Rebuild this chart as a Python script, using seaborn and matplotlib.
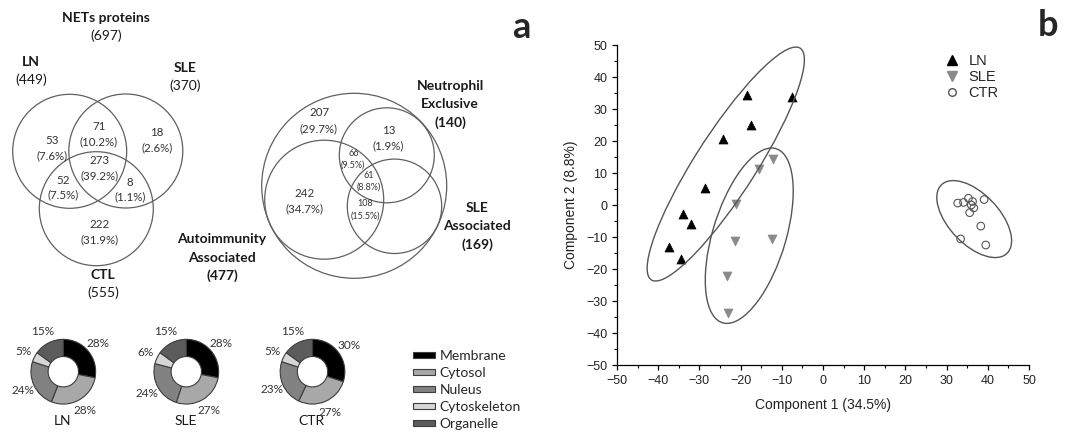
import numpy as np
import pandas as pd
import seaborn as sns
import matplotlib.pyplot as plt
from matplotlib.patches import Circle, Ellipse, Patch
from matplotlib.lines import Line2D
from matplotlib.ticker import MultipleLocator

# ---- data ----
# venn 1: NETs proteins per group
venn1_total = 697
venn1_sets = ["LN", "SLE", "CTL"]
venn1_set_sizes = [449, 370, 555]
# regions: LN only, LN&SLE, SLE only, all three, LN&CTL, SLE&CTL, CTL only
venn1_counts = [53, 71, 18, 273, 52, 8, 222]

# venn 2: autoimmunity / neutrophil / SLE associated
venn2_sets = ["Neutrophil\nExclusive", "SLE\nAssociated", "Autoimmunity\nAssociated"]
venn2_set_sizes = [140, 169, 477]
# regions: outside, neutro only, neutro&auto, all three, auto only, SLE&auto
venn2_counts = [207, 13, 66, 61, 242, 108]

# subcellular location (%)
locations = ["Membrane", "Cytosol", "Nuleus", "Cytoskeleton", "Organelle"]
donut_groups = ["LN", "SLE", "CTR"]
donut_ln = [28, 28, 24, 5, 15]
donut_sle = [28, 27, 24, 6, 15]
donut_ctr = [30, 27, 23, 5, 15]

# PCA scores
ln_pc1 = [-37.3, -34.5, -34.0, -32.1, -28.6, -24.2, -18.4, -17.4, -7.6]
ln_pc2 = [-13.2, -16.9, -2.9, -5.9, 5.3, 20.5, 34.4, 25.0, 33.8]
sle_pc1 = [-12.1, -15.5, -21.0, -21.3, -12.5, -23.4, -23.1]
sle_pc2 = [14.5, 11.1, 0.3, -11.3, -10.6, -22.2, -33.9]
ctr_pc1 = [32.7, 34.1, 35.3, 36.3, 36.0, 36.6, 35.6, 39.1, 38.3, 33.4, 39.5]
ctr_pc2 = [0.6, 0.8, 2.1, 1.1, 0.0, -0.9, -2.4, 1.7, -6.6, -10.6, -12.5]

# group ellipses (center x, center y, semi-major, semi-minor, angle deg)
ellipse_ln = [-23.6, 12.8, 40.5, 7.8, 64]
ellipse_sle = [-17.9, -9.6, 28.0, 9.0, 77.5]
ellipse_ctr = [36.7, -4.4, 13.5, 6.7, 121.5]

# ---- style ----
sns.set_style("ticks")
plt.rcParams["font.family"] = ["Liberation Sans", "DejaVu Sans"]
LEFT_FONT = ["Lato", "DejaVu Sans"]

W, H = 1068, 433
fig = plt.figure(figsize=(W / 100, H / 100), dpi=100)
fig.patch.set_facecolor("white")

# left panel drawn in pixel coordinates
axv = fig.add_axes([0, 0, 560 / W, 1])
axv.set_xlim(0, 560)
axv.set_ylim(H, 0)
axv.axis("off")

circ_kw = dict(fill=False, edgecolor="#606060", lw=0.9)
num_kw = dict(ha="center", va="center", color="#333333", family=LEFT_FONT)
bold_kw = dict(ha="center", va="center", color="#1a1a1a", family=LEFT_FONT,
               fontweight="bold", fontsize=10)
plain_kw = dict(ha="center", va="center", color="#1a1a1a", family=LEFT_FONT, fontsize=10)


def pct(n):
    return f"({n / venn1_total * 100:.1f}%)"


# venn 1
for cx, cy in [(69.7, 151.3), (125.8, 151.0), (96.3, 208.7)]:
    axv.add_patch(Circle((cx, cy), 57, **circ_kw))

axv.text(105.7, 18.5, "NETs proteins", **bold_kw)
axv.text(105.7, 36, f"({venn1_total})", **plain_kw)
v1_label_pos = [(31, 62), (185, 68), (103, 275)]
for name, size, (x, y) in zip(venn1_sets, venn1_set_sizes, v1_label_pos):
    axv.text(x, y, name, **bold_kw)
    axv.text(x, y + 18, f"({size})", **plain_kw)

v1_region_pos = [(51.7, 141), (99, 127), (156.7, 132.5), (99.3, 161),
                 (63.3, 180), (130, 182), (99.3, 225)]
for n, (x, y) in zip(venn1_counts, v1_region_pos):
    axv.text(x, y, str(n), fontsize=8.3, **num_kw)
    axv.text(x, y + 15, pct(n), fontsize=8.3, **num_kw)

# venn 2
for cx, cy, r in [(354.2, 185.8, 92.5), (324.2, 199.7, 59.5),
                  (386.8, 155.3, 47.5), (394.5, 206.3, 47.2)]:
    axv.add_patch(Circle((cx, cy), r, **circ_kw))

v2_label_pos = [(450, 86), (477, 208), (222, 239)]
for name, size, (x, y) in zip(venn2_sets, venn2_set_sizes, v2_label_pos):
    lines = name.split("\n")
    for i, line in enumerate(lines):
        axv.text(x, y + 18.5 * i, line, **bold_kw)
    axv.text(x, y + 18.5 * len(lines), f"({size})", **bold_kw)

v2_region_pos = [(319, 113, 8.3), (388.3, 130, 8.3), (353.3, 153.5, 6.5),
                 (368.3, 175, 6.5), (304.3, 193.5, 8.3), (365, 204, 6.5)]
for n, (x, y, fs) in zip(venn2_counts, v2_region_pos):
    gap = 15.5 if fs > 7 else 12
    axv.text(x, y, str(n), fontsize=fs, **num_kw)
    axv.text(x, y + gap, pct(n), fontsize=fs, **num_kw)

# donuts
loc_colors = ["#000000", "#a8a8a8", "#828282", "#d6d6d6", "#5c5c5c"]
donut_centers = [(63.3, 371.7), (186.3, 371.7), (312.5, 371.7)]
R = 33
for name, vals, (cx, cy) in zip(donut_groups, [donut_ln, donut_sle, donut_ctr], donut_centers):
    axd = fig.add_axes([(cx - R) / W, (H - cy - R) / H, 2 * R / W, 2 * R / H])
    axd.pie(vals, colors=loc_colors, startangle=90, counterclock=False,
            radius=1, autopct=lambda p: f"{p:.0f}%", pctdistance=1.38,
            wedgeprops=dict(width=0.53, edgecolor="#3c3c3c", linewidth=0.8),
            textprops=dict(fontsize=8.5, color="#333333", family=LEFT_FONT))
    axd.set_xlim(-1.02, 1.02)
    axd.set_ylim(-1.02, 1.02)
    axd.set_aspect("equal")
    axd.axis("off")
    axv.text(cx - 1, 421, name, **plain_kw)

loc_handles = [Patch(facecolor=c, edgecolor="#3c3c3c", linewidth=0.8) for c in loc_colors]
fig.legend(loc_handles, locations, loc="upper left",
           bbox_to_anchor=(413 / W, 1 - 350 / H), frameon=False,
           handlelength=1.6, handleheight=0.35, handletextpad=0.3,
           labelspacing=0.36, borderpad=0, borderaxespad=0,
           prop=dict(family=LEFT_FONT, size=10))

fig.text(521.5 / W, 1 - 28 / H, "a", ha="center", va="center", fontsize=26,
         fontweight="bold", family=LEFT_FONT)
fig.text(1048 / W, 1 - 25 / H, "b", ha="center", va="center", fontsize=26,
         fontweight="bold", family=LEFT_FONT)

# ---- PCA scatter ----
pca = pd.DataFrame({
    "pc1": ln_pc1 + sle_pc1 + ctr_pc1,
    "pc2": ln_pc2 + sle_pc2 + ctr_pc2,
    "group": ["LN"] * len(ln_pc1) + ["SLE"] * len(sle_pc1) + ["CTR"] * len(ctr_pc1),
})

ax = fig.add_axes([617 / W, (H - 365) / H, 412 / W, 320 / H])
sns.scatterplot(data=pca[pca.group == "LN"], x="pc1", y="pc2", marker="^",
                color="black", s=42, edgecolor="black", linewidth=0.5, ax=ax)
sns.scatterplot(data=pca[pca.group == "SLE"], x="pc1", y="pc2", marker="v",
                color="#8a8a8a", s=42, edgecolor="#8a8a8a", linewidth=0.5, ax=ax)
sns.scatterplot(data=pca[pca.group == "CTR"], x="pc1", y="pc2", marker="o",
                facecolors="none", edgecolor="#555555", s=30, linewidth=0.8, ax=ax)

for cx, cy, a, b, ang in [ellipse_ln, ellipse_sle, ellipse_ctr]:
    ax.add_patch(Ellipse((cx, cy), 2 * a, 2 * b, angle=ang, fill=False,
                         edgecolor="#555555", lw=1.0))

ax.set_xlim(-50, 50)
ax.set_ylim(-50, 50)
ax.xaxis.set_major_locator(MultipleLocator(10))
ax.xaxis.set_minor_locator(MultipleLocator(5))
ax.yaxis.set_major_locator(MultipleLocator(10))
ax.yaxis.set_minor_locator(MultipleLocator(5))
ax.tick_params(which="major", direction="out", length=3.5, width=0.9, labelsize=9,
               color="black", labelcolor="#222222")
ax.tick_params(which="minor", direction="out", length=2, width=0.8, color="black")
for s in ["left", "bottom"]:
    ax.spines[s].set_linewidth(0.9)
    ax.spines[s].set_color("black")
sns.despine(ax=ax)
ax.set_xlabel("Component 1 (34.5%)", fontsize=10, color="#222222", labelpad=8)
ax.set_ylabel("Component 2 (8.8%)", fontsize=10, color="#222222", labelpad=6)

leg_handles = [
    Line2D([], [], ls="none", marker="^", color="black", markersize=6.5),
    Line2D([], [], ls="none", marker="v", color="#8a8a8a", markersize=6.5),
    Line2D([], [], ls="none", marker="o", markerfacecolor="none",
           markeredgecolor="#555555", markersize=5.5),
]
ax.legend(leg_handles, ["LN", "SLE", "CTR"], loc="upper left",
          bbox_to_anchor=(945 / W, 1 - 54 / H), bbox_transform=fig.transFigure,
          frameon=False, handlelength=1.0, handletextpad=0.6, labelspacing=0.15,
          borderpad=0, borderaxespad=0, fontsize=10.5)

fig.savefig("out.png", dpi=100, facecolor="white")
